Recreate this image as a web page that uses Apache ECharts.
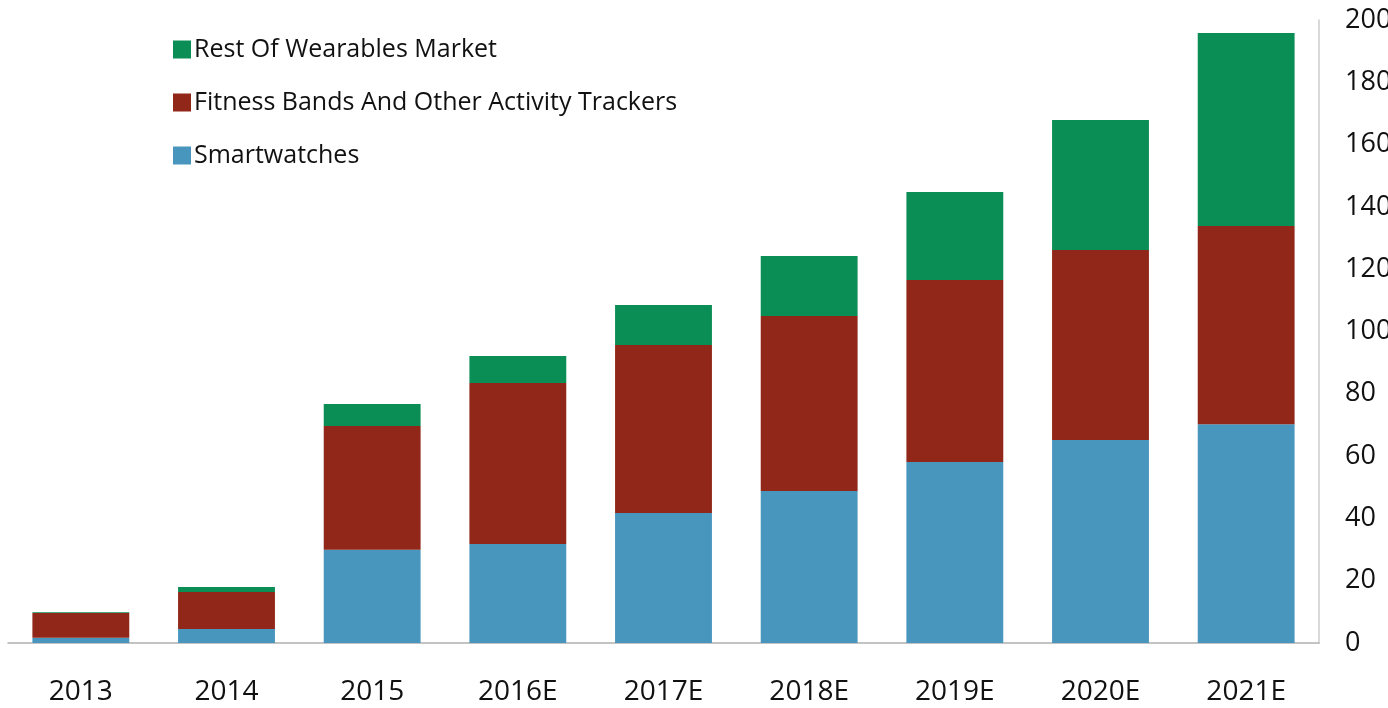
<!DOCTYPE html>
<html lang="en">
<head>
  <meta charset="UTF-8">
  <title>wearables</title>
  <script src="https://cdn.jsdelivr.net/npm/echarts@6/dist/echarts.min.js"></script>
  <style>
    *{margin:0;padding:0;}
    body{background:#fff;}
    .container{width:1388px;height:708px;}
  </style>
</head>
<body>
  <div class="container"></div>

  <script type="text/javascript">
    var years = ['2013', '2014', '2015', '2016E', '2017E', '2018E', '2019E', '2020E', '2021E']
    var smartwatches = [1.7, 4.5, 29.9, 31.8, 41.7, 48.8, 58.1, 65.2, 70.2]
    var fitnessBands = [7.9, 11.9, 39.8, 51.7, 54.0, 56.2, 58.4, 61.0, 63.7]
    var restOfMarket = [0.3, 1.6, 7.0, 8.6, 12.8, 19.2, 28.3, 41.7, 61.9]
    var yTicks = { min: 0, max: 200, interval: 20 }

    var font = '"Open Sans", sans-serif'
    const mCharts = echarts.init(document.querySelector('.container'))

    var option = {
      animation: false,
      grid: { left: 8, right: 69, top: 20, bottom: 65, outerBoundsMode: 'none' },
      legend: {
        orient: 'vertical',
        left: 168,
        top: 32,
        itemWidth: 18,
        itemHeight: 18,
        itemGap: 28,
        icon: 'rect',
        data: ['Rest Of Wearables Market', 'Fitness Bands And Other Activity Trackers', 'Smartwatches'],
        textStyle: { fontSize: 25, color: '#111', fontFamily: font, padding: [0, 0, 0, -2] }
      },
      xAxis: {
        type: 'category',
        data: years,
        axisLine: { lineStyle: { color: '#b0b0b0', width: 1.5 } },
        axisTick: { show: false },
        axisLabel: { fontSize: 28, color: '#111', fontFamily: font, margin: 35 }
      },
      yAxis: {
        type: 'value',
        position: 'right',
        min: yTicks.min,
        max: yTicks.max,
        interval: yTicks.interval,
        splitLine: { show: false },
        axisLine: { show: true, lineStyle: { color: '#cccccc', width: 1.5 } },
        axisTick: { show: false },
        axisLabel: { fontSize: 27, color: '#111', fontFamily: font, margin: 26 }
      },
      series: [
        {
          name: 'Smartwatches',
          type: 'bar',
          stack: 'total',
          data: smartwatches,
          barCategoryGap: '33.5%',
          itemStyle: { color: '#4895bd' }
        },
        {
          name: 'Fitness Bands And Other Activity Trackers',
          type: 'bar',
          stack: 'total',
          data: fitnessBands,
          itemStyle: { color: '#912718' }
        },
        {
          name: 'Rest Of Wearables Market',
          type: 'bar',
          stack: 'total',
          data: restOfMarket,
          itemStyle: { color: '#0a8e55' }
        }
      ]
    }
    mCharts.setOption(option)
    window.onresize = mCharts.resize
  </script>
</body>
</html>
